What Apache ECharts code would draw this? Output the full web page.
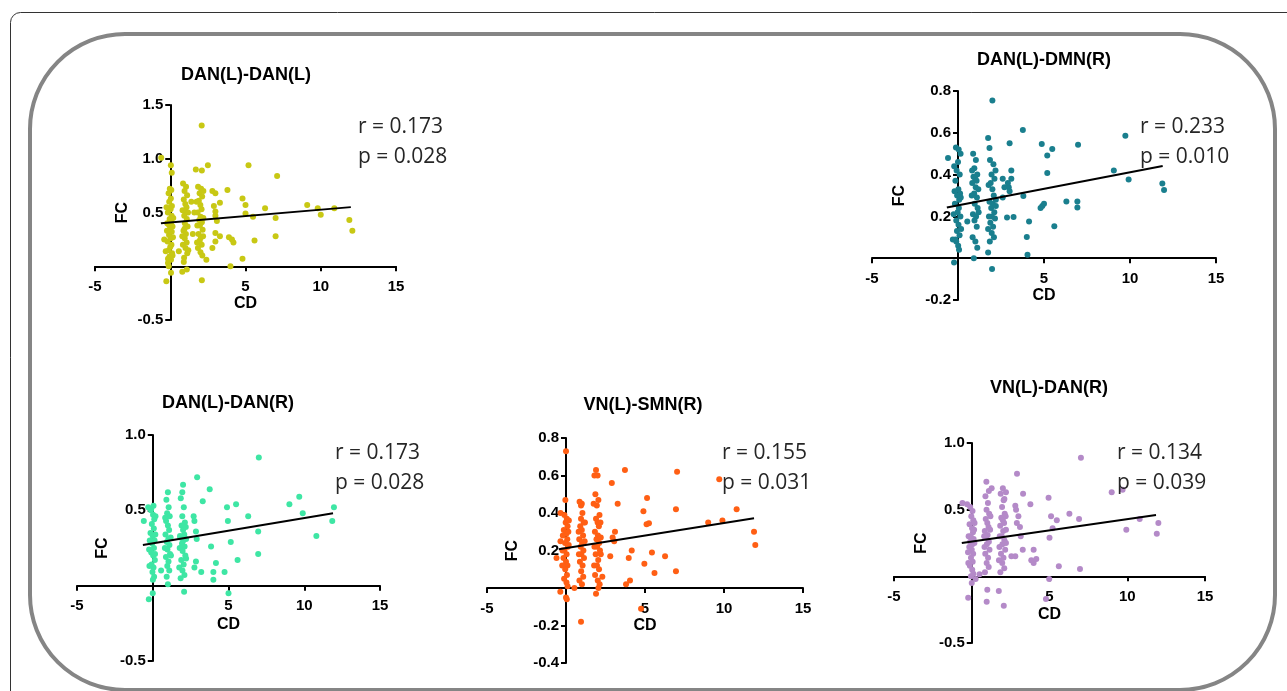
<!DOCTYPE html>
<html>
<head>
<meta charset="utf-8">
<title>FC vs CD</title>
<script src="https://cdn.jsdelivr.net/npm/echarts@6/dist/echarts.min.js"></script>
<style>
  html, body { margin: 0; padding: 0; background: #fff; }
  #main { width: 1287px; height: 691px; }
</style>
</head>
<body>
<div id="main"></div>
<script>
// ---- data ----
var titles = ['DAN(L)-DAN(L)', 'DAN(L)-DMN(R)', 'DAN(L)-DAN(R)', 'VN(L)-SMN(R)', 'VN(L)-DAN(R)'];
var rValues = ['0.173', '0.233', '0.173', '0.155', '0.134'];
var pValues = ['0.028', '0.010', '0.028', '0.031', '0.039'];
var xTicks = [-5, 15, 5];            // min, max, step (CD)
var yMin = [-0.5, -0.2, -0.5, -0.4, -0.5];
var yMax = [1.5, 0.8, 1.0, 0.8, 1.0];
var yStep = [0.5, 0.2, 0.5, 0.2, 0.5];

var danLdanL = [
  [-0.6,1.01],[2.09,1.31],[0.04,0.94],[0.1,0.87],[1.7,0.90],[2.1,0.89],[2.5,0.94],[5.2,0.94],[7.1,0.84],
  [3.8,0.71],[4.8,0.63],[5.0,0.57],[6.3,0.54],[9.1,0.57],[9.8,0.54],[10.0,0.48],[10.9,0.54],[11.9,0.43],
  [12.1,0.33],[7.0,0.45],[7.0,0.28],[5.6,0.24],[5.5,0.46],[5.0,0.49],[4.8,0.07],[4.1,0.25],[4.2,0.22],
  [4.0,0.0],[3.9,0.27],[3.3,0.28],[3.3,0.59],[3.0,0.23],[3.0,0.31],[3.0,0.47],[3.0,0.51],[2.9,0.56],
  [2.8,0.7],[3.0,0.68],[2.8,0.17],[3.1,0.42],[2.4,0.06],[2.1,-0.13],[1.1,-0.03],[0.8,-0.05],[0.9,0.04],
  [0.57,0.14],[0.05,-0.06],[-0.26,-0.14],[-0.1,0.0],[-0.15,0.07],[-0.4,0.25],[-0.3,0.14],[1.5,0.3],[1.6,0.5],[1.4,0.6],
  [-0.15,0.03],[0.05,0.06],[-0.05,0.09],[0.12,0.12],[-0.1,0.15],[0.0,0.18],[0.08,0.2],[-0.18,0.23],[0.03,0.26],
  [-0.08,0.29],[0.1,0.32],[-0.02,0.35],[0.15,0.37],[-0.12,0.39],[0.06,0.41],[-0.04,0.44],[0.09,0.47],[-0.16,0.5],
  [0.02,0.53],[0.11,0.56],[-0.07,0.6],[0.04,0.63],[-0.11,0.68],[0.07,0.71],[-0.03,0.72],
  [0.85,0.77],[1.05,0.74],[0.95,0.7],[1.12,0.66],[0.9,0.62],[1.0,0.58],[1.08,0.55],[0.82,0.52],[1.02,0.5],
  [0.93,0.47],[1.1,0.44],[0.97,0.4],[1.15,0.37],[0.88,0.33],[1.04,0.3],[0.96,0.26],[1.09,0.22],[0.84,0.2],
  [1.01,0.17],[1.13,0.12],[0.92,0.08],
  [1.85,0.74],[2.05,0.72],[1.95,0.68],[2.12,0.65],[1.9,0.61],[2.0,0.57],[2.08,0.53],[1.82,0.5],[2.02,0.46],
  [1.93,0.43],[2.1,0.41],[1.97,0.38],[2.15,0.34],[1.88,0.3],[2.04,0.27],[1.96,0.24],[2.09,0.2],[1.84,0.17],
  [2.01,0.13],[2.13,0.1],
  [-0.2,0.4],[0.18,0.27],[-0.25,0.55],[0.15,0.1],[-0.22,0.33],[0.2,0.45],[0.95,0.35],[1.18,0.5],[0.8,0.28],
  [1.2,0.15],[1.8,0.38],[2.2,0.45],[1.78,0.22],[2.18,0.28],[1.75,0.6],[2.2,0.7]
];
var danLdmnR = [
  [2.0,0.754],[3.77,0.613],[9.73,0.586],[4.87,0.546],[6.98,0.543],[5.48,0.523],[5.19,0.491],[5.19,0.408],
  [9.06,0.42],[9.92,0.376],[11.88,0.357],[11.98,0.326],[6.3,0.271],[6.94,0.271],[6.94,0.243],[4.9,0.25],
  [5.0,0.26],[4.8,0.24],[5.6,0.153],[4.13,0.176],[4.0,0.102],[4.04,0.016],[3.23,0.197],[2.85,0.195],
  [3.8,0.298],[3.0,0.55],[3.1,0.42],[3.1,0.38],[2.95,0.34],[2.9,0.36],[3.0,0.32],[2.6,0.38],[2.6,0.29],
  [2.7,0.34],[1.75,0.575],[1.83,0.527],[1.75,0.027],[1.98,-0.052],[0.92,0.0],[0.54,0.176],[-0.58,0.48],
  [-0.23,-0.02],[-0.3,0.09],[-0.1,0.08],
  [-0.12,0.53],[0.04,0.52],[0.0,0.46],[-0.08,0.42],[0.1,0.4],[-0.15,0.37],[0.02,0.33],[0.12,0.31],[-0.05,0.3],
  [0.07,0.28],[-0.18,0.26],[0.05,0.24],[-0.02,0.22],[0.14,0.2],[-0.1,0.18],[0.03,0.16],[-0.06,0.13],[0.09,0.11],
  [-0.14,0.09],[0.01,0.06],[0.06,0.04],
  [0.88,0.5],[1.04,0.47],[0.95,0.43],[1.12,0.4],[0.9,0.39],[1.0,0.38],[1.08,0.37],[0.83,0.36],[1.03,0.34],
  [0.94,0.31],[1.1,0.29],[0.97,0.26],[1.14,0.24],[0.87,0.21],[1.05,0.2],[0.96,0.18],[1.09,0.15],[0.85,0.1],
  [1.01,0.08],[1.12,0.05],
  [1.86,0.47],[2.06,0.45],[1.95,0.4],[2.12,0.38],[1.9,0.36],[2.0,0.33],[2.08,0.3],[1.83,0.27],[2.02,0.26],
  [1.93,0.24],[2.11,0.22],[1.97,0.2],[2.15,0.19],[1.88,0.17],[2.04,0.15],[1.96,0.12],[2.09,0.1],[1.85,0.08],
  [-0.2,0.32],[0.16,0.29],[-0.25,0.21],[0.18,0.14],[-0.22,0.44],[0.15,0.5],[0.8,0.3],[1.18,0.33],[0.82,0.42],
  [1.2,0.22],[1.8,0.2],[2.2,0.25],[1.78,0.35],[2.18,0.42],[1.75,0.14],[2.2,0.28]
];
var danLdanR = [
  [7.0,0.85],[2.93,0.72],[3.76,0.64],[2.0,0.67],[1.95,0.62],[1.0,0.62],[9.67,0.59],[9.02,0.54],[5.5,0.54],
  [4.9,0.52],[11.96,0.52],[3.3,0.56],[6.3,0.46],[9.9,0.48],[4.96,0.43],[11.85,0.43],[10.8,0.33],[6.96,0.36],
  [6.96,0.21],[5.15,0.29],[5.6,0.17],[3.85,0.26],[4.17,0.15],[4.0,0.09],[4.0,0.04],[4.74,0.09],[5.0,-0.05],
  [3.2,0.09],[2.85,0.16],[2.75,0.12],[2.9,0.31],[2.85,0.36],[2.7,0.46],[2.75,0.43],[2.07,-0.04],[1.0,0.01],
  [0.55,0.1],[-0.26,-0.09],[0.0,-0.05],[-0.59,0.43],[-0.3,0.52],[-0.1,0.51],
  [0.05,0.53],[-0.12,0.5],[0.02,0.47],[0.1,0.44],[-0.06,0.41],[0.07,0.38],[-0.15,0.35],[0.0,0.33],[0.12,0.3],
  [-0.04,0.28],[0.08,0.25],[-0.1,0.22],[0.03,0.2],[0.14,0.17],[-0.08,0.14],[0.05,0.12],[-0.02,0.09],[0.09,0.06],
  [0.01,0.04],
  [0.9,0.57],[1.05,0.52],[0.95,0.48],[1.12,0.46],[0.88,0.43],[1.0,0.4],[1.08,0.37],[0.84,0.34],[1.03,0.31],
  [0.93,0.29],[1.1,0.27],[0.97,0.24],[1.14,0.21],[0.87,0.19],[1.04,0.16],[0.96,0.13],[1.09,0.1],[0.92,0.06],
  [1.85,0.58],[2.05,0.52],[1.95,0.46],[2.12,0.42],[1.9,0.4],[2.0,0.37],[2.08,0.34],[1.82,0.32],[2.02,0.3],
  [1.93,0.28],[2.1,0.26],[1.97,0.23],[2.15,0.2],[1.88,0.17],[2.04,0.14],[1.96,0.1],[2.09,0.07],[1.84,0.05],
  [-0.2,0.3],[0.17,0.34],[-0.24,0.24],[0.18,0.46],[-0.22,0.13],[0.15,0.21],[0.8,0.25],[1.18,0.32],[0.82,0.45],
  [1.2,0.2],[1.8,0.33],[2.2,0.31],[1.78,0.25],[2.18,0.39],[1.75,0.12],[2.2,0.18]
];
var vnLsmnR = [
  [0.0,0.73],[1.9,0.63],[1.8,0.6],[2.0,0.6],[3.73,0.63],[7.03,0.62],[9.7,0.58],[2.9,0.56],[5.13,0.48],
  [-0.04,0.47],[3.27,0.45],[6.96,0.42],[10.8,0.42],[4.9,0.41],[9.0,0.35],[9.9,0.36],[5.1,0.34],[5.25,0.345],
  [11.9,0.3],[11.98,0.23],[4.16,0.2],[5.44,0.19],[6.27,0.17],[4.96,0.13],[6.96,0.09],[5.6,0.08],[3.97,0.16],
  [4.05,0.04],[3.8,0.02],[4.75,-0.11],[3.1,0.3],[2.95,0.27],[3.05,0.25],[2.8,0.17],[2.3,0.06],[1.9,-0.03],
  [2.05,0.0],[0.95,-0.18],[0.53,0.0],[-0.36,-0.02],[0.0,-0.05],[0.05,-0.06],[-0.35,0.4],[-0.35,0.25],
  [-0.6,0.16],[1.0,0.45],[0.95,0.44],
  [-0.1,0.39],[0.05,0.37],[-0.02,0.35],[0.1,0.33],[-0.14,0.31],[0.02,0.29],[0.08,0.26],[-0.06,0.24],[0.12,0.22],
  [-0.1,0.2],[0.04,0.18],[-0.16,0.16],[0.0,0.14],[0.09,0.12],[-0.05,0.1],[0.06,0.07],[-0.12,0.05],[0.03,0.03],
  [0.1,0.01],
  [0.86,0.46],[1.04,0.4],[0.95,0.37],[1.12,0.35],[0.9,0.33],[1.0,0.31],[1.08,0.28],[0.84,0.26],[1.02,0.24],
  [0.93,0.22],[1.1,0.2],[0.97,0.18],[1.14,0.16],[0.88,0.14],[1.05,0.12],[0.96,0.09],[1.09,0.06],[0.85,0.04],
  [1.01,0.02],
  [1.86,0.5],[2.05,0.47],[1.95,0.44],[2.12,0.39],[1.9,0.37],[2.0,0.35],[2.08,0.33],[1.83,0.3],[2.02,0.28],
  [1.93,0.26],[2.1,0.24],[1.97,0.22],[2.15,0.2],[1.88,0.18],[2.04,0.15],[1.96,0.12],[2.09,0.1],[1.84,0.07],
  [2.01,0.04],[2.13,0.02],
  [-0.2,0.28],[0.17,0.23],[-0.24,0.12],[0.18,0.36],[-0.22,0.2],[0.15,0.3],[0.8,0.3],[1.18,0.25],[0.82,0.18],
  [1.2,0.35],[1.8,0.22],[2.2,0.27],[1.78,0.12],[2.18,0.35],[1.75,0.45],[2.2,0.18]
];
var vnLdanR = [
  [7.02,0.89],[2.91,0.77],[0.94,0.71],[1.28,0.66],[1.1,0.64],[2.0,0.66],[2.2,0.63],[2.1,0.58],[9.0,0.63],
  [9.7,0.65],[3.3,0.62],[4.94,0.59],[3.77,0.54],[2.8,0.53],[2.85,0.5],[-0.6,0.55],[-0.3,0.54],[6.9,0.43],
  [5.1,0.45],[5.47,0.42],[6.28,0.47],[10.8,0.43],[12.0,0.4],[11.9,0.32],[9.94,0.35],[5.2,0.36],[5.0,0.29],
  [3.0,0.45],[2.9,0.4],[3.1,0.37],[3.15,0.3],[3.28,0.2],[3.98,0.2],[3.83,0.12],[3.98,0.1],[4.15,0.13],
  [5.6,0.075],[6.96,0.055],[4.98,-0.02],[4.77,-0.17],[2.55,0.15],[2.8,0.15],[2.06,-0.22],[1.74,-0.11],
  [1.0,-0.1],[0.96,-0.19],[-0.23,-0.16],[0.25,-0.02],[0.0,-0.05],[-0.05,0.0],[0.5,0.015],
  [-0.1,0.52],[0.05,0.49],[-0.03,0.45],[0.1,0.42],[-0.14,0.39],[0.02,0.36],[0.08,0.33],[-0.07,0.3],[0.12,0.28],
  [-0.1,0.26],[0.04,0.24],[-0.16,0.22],[0.0,0.2],[0.09,0.17],[-0.05,0.14],[0.06,0.11],[-0.12,0.08],[0.03,0.05],
  [0.1,0.02],
  [0.88,0.6],[1.04,0.55],[0.95,0.5],[1.12,0.47],[0.9,0.43],[1.0,0.4],[1.08,0.37],[0.84,0.34],[1.02,0.31],
  [0.93,0.29],[1.1,0.26],[0.97,0.24],[1.14,0.2],[0.87,0.17],[1.05,0.14],[0.96,0.1],[1.09,0.07],[0.85,0.03],
  [1.86,0.62],[2.05,0.57],[1.95,0.52],[2.12,0.47],[1.9,0.44],[2.0,0.42],[2.08,0.4],[1.83,0.38],[2.02,0.34],
  [1.93,0.3],[2.1,0.27],[1.97,0.24],[2.15,0.2],[1.88,0.17],[2.04,0.14],[1.96,0.1],[2.09,0.06],[1.84,0.03],
  [-0.2,0.3],[0.17,0.25],[-0.24,0.18],[0.18,0.4],[-0.22,0.1],[0.15,0.35],[0.8,0.3],[1.18,0.35],[0.82,0.22],
  [1.2,0.45],[1.8,0.3],[2.2,0.35],[1.78,0.22],[2.18,0.45],[1.75,0.12],[2.2,0.25]
];
var points = [danLdanL, danLdmnR, danLdanR, vnLsmnR, vnLdanR];

// regression line end points
var fits = [
  [[-0.62, 0.40], [12.0, 0.55]],
  [[-0.65, 0.243], [11.9, 0.441]],
  [[-0.65, 0.27], [11.9, 0.48]],
  [[-0.46, 0.207], [11.9, 0.372]],
  [[-0.64, 0.25], [11.85, 0.46]]
];

// ---- layout ----
var colors = ['#c8c814', '#1a7f8e', '#3ee6a4', '#ff5f14', '#b48ac8'];
var panels = [
  { left: 95,  top: 105, width: 301, height: 215, title: [246, 75],  stat: [358, 127], fcGap: 40, cdGap: 28 },
  { left: 872, top: 91,  width: 344, height: 209, title: [1044, 60], stat: [1140, 127], fcGap: 50, cdGap: 28 },
  { left: 77,  top: 435, width: 303, height: 226, title: [228, 403], stat: [335, 453], fcGap: 42, cdGap: 31 },
  { left: 487, top: 438, width: 316, height: 225, title: [643, 405], stat: [722, 453], fcGap: 45, cdGap: 30 },
  { left: 894, top: 443, width: 311, height: 200, title: [1049, 388], stat: [1117, 453], fcGap: 42, cdGap: 30 }
];

var boldFont = 'Liberation Sans';
var axisLine = { onZero: false, lineStyle: { color: '#000', width: 2 } };
var axisTick = { show: true, length: 5, lineStyle: { color: '#000', width: 2 } };

// shift the axes into the plot so they cross at (0, 0), Prism style
function xShift(p, i) { return -p.height * (0 - yMin[i]) / (yMax[i] - yMin[i]); }
function yShift(p) { return -p.width * (0 - xTicks[0]) / (xTicks[1] - xTicks[0]); }

var graphic = [
  { type: 'rect', shape: { x: 10.5, y: 12.5, width: 1300, height: 700, r: 10 },
    style: { fill: 'none', stroke: '#333', lineWidth: 1 } },
  { type: 'rect', shape: { x: 30, y: 34, width: 1245, height: 656, r: 95 },
    style: { fill: 'none', stroke: '#858585', lineWidth: 4 } }
];
panels.forEach(function (p, i) {
  graphic.push({ type: 'text', x: p.title[0], y: p.title[1],
    style: { text: titles[i], font: 'bold 18px "Liberation Sans"', fill: '#000',
             textAlign: 'center', textVerticalAlign: 'middle' } });
  graphic.push({ type: 'text', x: p.stat[0], y: p.stat[1], z: 10,
    style: { text: 'r = ' + rValues[i], font: '21px "Open Sans"', fill: '#262626',
             textAlign: 'left', textVerticalAlign: 'middle' } });
  graphic.push({ type: 'text', x: p.stat[0], y: p.stat[1] + 30, z: 10,
    style: { text: 'p = ' + pValues[i], font: '21px "Open Sans"', fill: '#262626',
             textAlign: 'left', textVerticalAlign: 'middle' } });
});

var option = {
  animation: false,
  backgroundColor: '#fff',
  graphic: graphic,
  grid: panels.map(function (p) {
    return { left: p.left, top: p.top, width: p.width, height: p.height, outerBoundsMode: 'none' };
  }),
  xAxis: panels.map(function (p, i) {
    return {
      type: 'value', gridIndex: i, position: 'bottom', offset: xShift(p, i),
      min: xTicks[0], max: xTicks[1], interval: xTicks[2],
      axisLine: axisLine, axisTick: axisTick, splitLine: { show: false },
      axisLabel: { color: '#000', fontWeight: 'bold', fontSize: 15, fontFamily: boldFont, margin: 13,
        formatter: function (v) { return v === 0 ? '' : String(v); } },
      name: 'CD', nameLocation: 'middle', nameGap: p.cdGap,
      nameTextStyle: { color: '#000', fontWeight: 'bold', fontSize: 16, fontFamily: boldFont }
    };
  }),
  yAxis: panels.map(function (p, i) {
    return {
      type: 'value', gridIndex: i, position: 'left', offset: yShift(p),
      min: yMin[i], max: yMax[i], interval: yStep[i],
      axisLine: axisLine, axisTick: axisTick, splitLine: { show: false },
      axisLabel: { color: '#000', fontWeight: 'bold', fontSize: 15, fontFamily: boldFont, margin: 7,
        formatter: function (v) { return Math.abs(v) < 1e-9 ? '' : v.toFixed(1); } },
      name: 'FC', nameLocation: 'middle', nameGap: p.fcGap,
      nameTextStyle: { color: '#000', fontWeight: 'bold', fontSize: 16, fontFamily: boldFont }
    };
  }),
  series: []
};

points.forEach(function (pts, i) {
  option.series.push({
    type: 'scatter', xAxisIndex: i, yAxisIndex: i, data: pts, symbolSize: 6,
    itemStyle: { color: colors[i], opacity: 1 }, silent: true
  });
  option.series.push({
    type: 'line', xAxisIndex: i, yAxisIndex: i, data: fits[i], showSymbol: false, symbol: 'none',
    lineStyle: { color: '#000', width: 2 }, z: 5, silent: true
  });
});

var chart = echarts.init(document.getElementById('main'), null, { renderer: 'canvas' });
chart.setOption(option);
</script>
</body>
</html>
